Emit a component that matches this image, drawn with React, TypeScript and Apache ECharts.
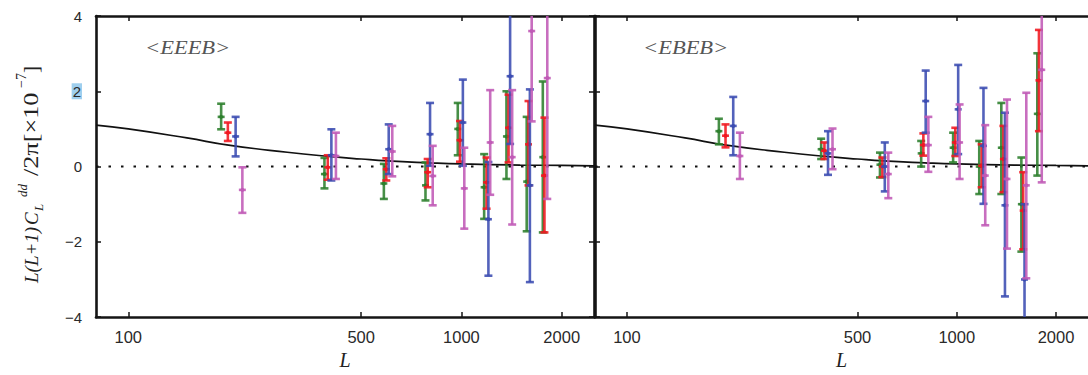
import React, { useEffect, useRef } from "react";
import * as echarts from "echarts";

// ---- data ----
const xTickValues = [100, 500, 1000, 2000];
const yTickLabels = ["−4", "−2", "0", "2", "4"];

// theory curve
const curveL = [80, 100, 150, 200, 300, 400, 500, 600, 800, 1000, 1500, 2000, 2500];
const curveV = [1.1, 1.0, 0.76, 0.57, 0.38, 0.27, 0.2, 0.15, 0.1, 0.07, 0.04, 0.03, 0.02];

// multipole positions of each estimator (slightly offset within each bin)
const greenL = [190, 388, 585, 780, 975, 1170, 1365, 1570, 1755];
const redL = [199, 397, 595, 792, 990, 1190, 1385, 1590, 1775];
const blueL = [210, 407, 605, 805, 1010, 1205, 1400, 1605];
const magentaL = [220, 420, 620, 820, 1020, 1220, 1420, 1625, 1810];

// <EEEB> panel: [mid, low, high]
const eeebGreen = [[1.32, 0.99, 1.67], [-0.2, -0.58, 0.23], [-0.45, -0.86, 0.07], [-0.5, -0.9, 0.11], [1.0, 0.3, 1.69], [-0.55, -1.39, 0.33], [0.8, -0.33, 2.0], [-0.4, -1.72, 1.32], [0.25, -1.75, 2.26]];
const eeebRed = [[0.9, 0.68, 1.17], [-0.02, -0.35, 0.3], [-0.07, -0.37, 0.22], [-0.15, -0.55, 0.2], [0.7, 0.13, 1.21], [-0.42, -1.12, 0.24], [1.03, 0.11, 1.91], [0.59, -0.5, 1.74], [-0.24, -1.75, 1.3]];
const eeebBlue = [[0.8, 0.27, 1.32], [0.3, -0.37, 0.99], [0.46, -0.2, 1.12], [0.86, 0.02, 1.69], [1.17, 0.02, 2.31], [-1.4, -2.9, 0.12], [2.4, 0.6, 4.2], [-0.5, -3.07, 2.05]];
const eeebMagenta = [[-0.62, -1.23, -0.02], [0.28, -0.33, 0.9], [0.4, -0.26, 1.08], [-0.25, -1.03, 0.55], [-0.58, -1.65, 0.5], [0.64, -0.75, 2.03], [0.25, -1.54, 2.03], [3.6, 1.2, 6.0], [2.35, -0.86, 5.56]];

// <EBEB> panel: [mid, low, high]
const ebebGreen = [[0.94, 0.59, 1.27], [0.46, 0.2, 0.74], [0.05, -0.29, 0.37], [0.35, 0.0, 0.68], [0.5, 0.11, 0.9], [0.0, -0.73, 0.68], [0.5, -0.73, 1.69], [-1.0, -2.26, 0.24], [1.4, -0.24, 3.01]];
const ebebRed = [[0.82, 0.51, 1.12], [0.42, 0.2, 0.64], [0.0, -0.28, 0.24], [0.57, 0.29, 0.88], [0.64, 0.28, 1.03], [0.02, -0.55, 0.59], [0.2, -0.68, 1.08], [-1.17, -2.2, -0.15], [2.29, 0.94, 3.63]];
const ebebBlue = [[1.08, 0.3, 1.85], [0.35, -0.22, 0.94], [0.0, -0.66, 0.64], [1.74, 0.9, 2.55], [1.52, 0.33, 2.7], [0.55, -0.99, 2.09], [-1.03, -3.45, 1.43], [-3.0, -5.0, -1.0]];
const ebebMagenta = [[0.28, -0.33, 0.9], [0.46, -0.07, 1.01], [-0.2, -0.84, 0.37], [0.57, -0.14, 1.32], [0.64, -0.33, 1.65], [-0.24, -1.56, 1.1], [-0.33, -2.18, 1.78], [-0.5, -2.97, 1.96], [2.57, -0.42, 5.5]];

const panelLabels = ["<EEEB>", "<EBEB>"];

const COLORS = { green: "#2d7f2d", red: "#f01820", blue: "#3b4cb2", magenta: "#c05ab6" };

function makePoints(Ls: number[], vals: number[][]) {
  return vals.map((v, i) => [Ls[i], v[0], v[1], v[2]]);
}

function errorBar(color: string) {
  return (params: any, api: any) => {
    const x = api.value(0);
    const pm = api.coord([x, api.value(1)]);
    const pl = api.coord([x, api.value(2)]);
    const ph = api.coord([x, api.value(3)]);
    const w = 4;
    const st = { stroke: color, lineWidth: 2.6, opacity: 0.88 };
    return {
      type: "group",
      children: [
        { type: "line", shape: { x1: pl[0], y1: pl[1], x2: ph[0], y2: ph[1] }, style: st },
        { type: "line", shape: { x1: pl[0] - w, y1: pl[1], x2: pl[0] + w, y2: pl[1] }, style: st },
        { type: "line", shape: { x1: ph[0] - w, y1: ph[1], x2: ph[0] + w, y2: ph[1] }, style: st },
        { type: "line", shape: { x1: pm[0] - 3.5, y1: pm[1], x2: pm[0] + 3.5, y2: pm[1] }, style: st },
        { type: "circle", shape: { cx: pm[0], cy: pm[1], r: 2 }, style: { fill: color } },
      ],
    };
  };
}

const AXIS_COLOR = "#151515";
const SANS = "Liberation Sans, Arial, sans-serif";
const SERIF = "Liberation Serif, Times New Roman, serif";

function xAxes(gridIndex: number) {
  const common = {
    type: "log",
    logBase: 10,
    min: 80,
    max: 2500,
    gridIndex,
    splitLine: { show: false },
    minorTick: { show: false },
    axisLine: { show: true, onZero: false, lineStyle: { color: AXIS_COLOR, width: 2.6 } },
    axisTick: { show: true, inside: true, length: 5, customValues: xTickValues, lineStyle: { color: AXIS_COLOR, width: 1.5 } },
  };
  return [
    {
      ...common,
      position: "bottom",
      name: "L",
      nameLocation: "middle",
      nameGap: 29,
      nameTextStyle: { fontFamily: SERIF, fontStyle: "italic", fontSize: 20, color: "#222" },
      axisLabel: {
        show: true,
        customValues: xTickValues,
        margin: 11,
        fontFamily: SANS,
        fontSize: 16.5,
        color: "#2a2a2a",
        formatter: (v: number) => String(Math.round(v)),
      },
    },
    { ...common, position: "top", axisLabel: { show: false } },
  ];
}

function yAxis(gridIndex: number, position: string, labels: boolean) {
  return {
    type: "value",
    gridIndex,
    position,
    min: -4,
    max: 4,
    interval: 2,
    splitLine: { show: false },
    axisLine: { show: true, onZero: false, lineStyle: { color: AXIS_COLOR, width: 2.6 } },
    axisTick: { show: true, inside: true, length: 5, lineStyle: { color: AXIS_COLOR, width: 1.5 } },
    axisLabel: {
      show: labels,
      margin: 14,
      fontFamily: SANS,
      fontSize: 15,
      color: "#2a2a2a",
      formatter: (v: number) => {
        const t = yTickLabels[Math.round((v + 4) / 2)];
        return v === 2 ? "{hl|" + t + "}" : t;
      },
      rich: { hl: { backgroundColor: "#9fcfee", fontFamily: SANS, fontSize: 15, color: "#2a2a2a", padding: [1, 1, 0, 1] } },
    },
  };
}

function panelSeries(xi: number, yi: number, g: number[][], r: number[][], b: number[][], m: number[][]) {
  const list: any[] = [
    {
      type: "line",
      xAxisIndex: xi,
      yAxisIndex: yi,
      data: [[80, 0], [2500, 0]],
      symbol: "none",
      lineStyle: { color: "#111", width: 2, type: [2.5, 10] },
      z: 1,
    },
    {
      type: "line",
      xAxisIndex: xi,
      yAxisIndex: yi,
      data: curveL.map((l, i) => [l, curveV[i]]),
      symbol: "none",
      smooth: true,
      lineStyle: { color: "#111", width: 1.7 },
      z: 2,
    },
  ];
  const sets: [number[], number[][], string][] = [
    [greenL, g, COLORS.green],
    [redL, r, COLORS.red],
    [blueL, b, COLORS.blue],
    [magentaL, m, COLORS.magenta],
  ];
  sets.forEach(([Ls, vals, color]) => {
    list.push({
      type: "custom",
      xAxisIndex: xi,
      yAxisIndex: yi,
      clip: true,
      renderItem: errorBar(color),
      encode: { x: 0, y: 1 },
      data: makePoints(Ls, vals),
      z: 3,
    });
  });
  return list;
}

export default function App() {
  const ref = useRef<HTMLDivElement>(null);
  useEffect(() => {
    if (!ref.current) return;
    const chart = echarts.init(ref.current, undefined, { renderer: "svg" });
    const titleY = 283;
    const tf = "italic 19px " + SERIF;
    const uf = "21px " + SERIF;
    const sf = "italic 13px " + SERIF;
    const txt = (x: number, y: number, text: string, font: string, sx = 1) => ({
      type: "text",
      x,
      y,
      scaleX: sx,
      style: { text, font, fill: "#222", verticalAlign: "middle", align: "left" },
    });
    const option: any = {
      animation: false,
      backgroundColor: "#ffffff",
      grid: [
        { left: 96, top: 16, width: 498, height: 303 },
        { left: 595, top: 16, width: 498, height: 303 },
      ],
      xAxis: [...xAxes(0), ...xAxes(1)],
      yAxis: [yAxis(0, "left", true), yAxis(0, "right", false), yAxis(1, "left", false)],
      series: [
        ...panelSeries(0, 0, eeebGreen, eeebRed, eeebBlue, eeebMagenta),
        ...panelSeries(2, 2, ebebGreen, ebebRed, ebebBlue, ebebMagenta),
      ],
      graphic: [
        {
          type: "text",
          x: 145,
          y: 48,
          scaleX: 1.25,
          style: { text: panelLabels[0], font: "italic 18px " + SERIF, fill: "#555", verticalAlign: "middle", align: "left" },
        },
        {
          type: "text",
          x: 643,
          y: 48,
          scaleX: 1.25,
          style: { text: panelLabels[1], font: "italic 18px " + SERIF, fill: "#555", verticalAlign: "middle", align: "left" },
        },
        {
          type: "group",
          x: 31,
          y: titleY,
          rotation: Math.PI / 2,
          children: [
            txt(0, 0, "L(L+1)", tf),
            txt(58, 0, "C", tf),
            txt(72, 7, "L", sf),
            txt(86, -9, "dd", sf),
            txt(107, 0, "/2π[×10", uf, 1.25),
            txt(195, -10, "−7", "14px " + SERIF),
            txt(210, 0, "]", uf),
          ],
        },
      ],
    };
    chart.setOption(option);
    return () => chart.dispose();
  }, []);
  return <div ref={ref} style={{ position: "absolute", left: 0, top: 0, width: 1088, height: 375 }} />;
}
